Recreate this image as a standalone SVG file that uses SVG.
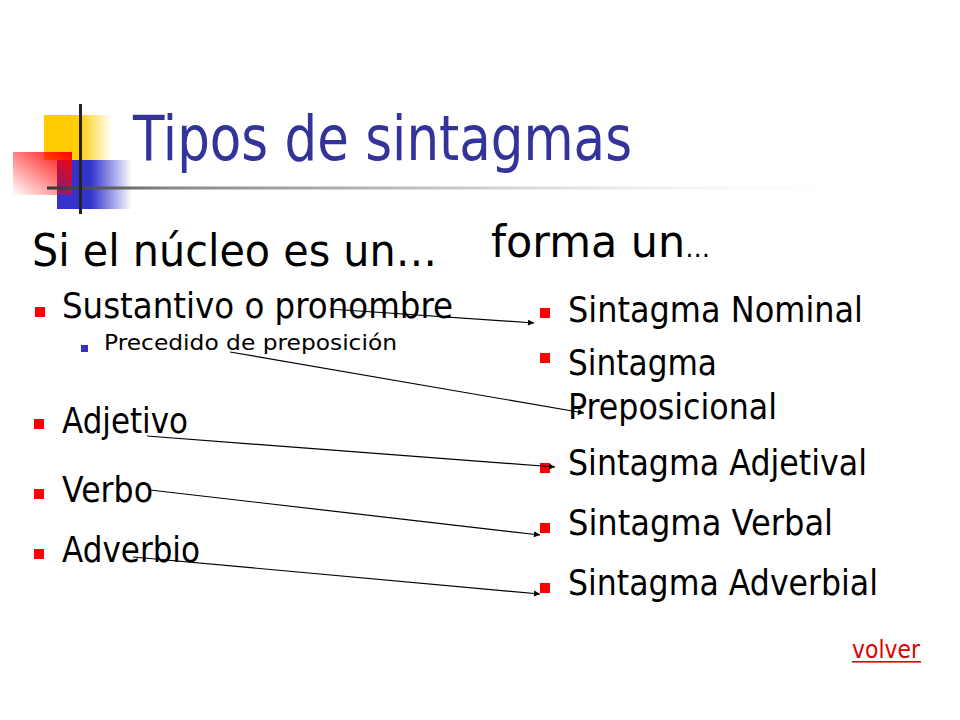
<svg xmlns="http://www.w3.org/2000/svg" width="960" height="720" viewBox="0 0 960 720">
<defs>
<linearGradient id="gy" x1="0" y1="0" x2="1" y2="0"><stop offset="0" stop-color="#FFCC00"/><stop offset="0.5" stop-color="#FFCC00"/><stop offset="1" stop-color="#FFCC00" stop-opacity="0"/></linearGradient>
<linearGradient id="gb" x1="0" y1="0" x2="1" y2="0"><stop offset="0" stop-color="#3333CC"/><stop offset="0.45" stop-color="#3333CC"/><stop offset="1" stop-color="#3333CC" stop-opacity="0"/></linearGradient>
<linearGradient id="gr" x1="0" y1="1" x2="1" y2="0"><stop offset="0" stop-color="#FF0000" stop-opacity="0"/><stop offset="1" stop-color="#FF0000"/></linearGradient>
<linearGradient id="gl" x1="47" y1="0" x2="880" y2="0" gradientUnits="userSpaceOnUse"><stop offset="0" stop-color="#333333"/><stop offset="0.15" stop-color="#888888"/><stop offset="0.6" stop-color="#dddddd"/><stop offset="1" stop-color="#ffffff" stop-opacity="0"/></linearGradient>
<marker id="ah" viewBox="0 0 10 10" refX="10" refY="5" markerWidth="9" markerHeight="6" markerUnits="userSpaceOnUse" orient="auto"><path d="M0,0 L10,5 L0,10 z" fill="#000"/></marker>
</defs>
<style>
text{font-family:"DejaVu Sans","Liberation Sans",sans-serif;fill:#000}
.t{fill:#333399}
.b{fill:#FF0000}
.c{stroke:#000;stroke-width:1.2;fill:none;marker-end:url(#ah)}
</style>
<rect width="960" height="720" fill="#fff"/>
<g id="logo">
<rect x="44" y="115" width="68" height="45" fill="url(#gy)"/>
<rect x="57" y="160" width="75" height="49" fill="url(#gb)"/>
<rect x="13" y="152" width="59" height="43" fill="url(#gr)"/>
<rect x="47" y="186.5" width="833" height="3" fill="url(#gl)"/>
<rect x="79" y="104" width="3" height="110" fill="#222"/>
</g>
<g id="title"><text class="t" x="133" y="160" font-size="63" textLength="499" lengthAdjust="spacingAndGlyphs">Tipos de sintagmas</text></g>
<g id="left-head"><text x="32" y="266" font-size="45" textLength="405" lengthAdjust="spacingAndGlyphs">Si el núcleo es un…</text></g>
<g id="right-head"><text x="491" y="257" font-size="45" textLength="219" lengthAdjust="spacingAndGlyphs">forma un<tspan font-size="26">…</tspan></text></g>
<g id="n-sustantivo"><rect class="b" x="35" y="307" width="10" height="10"/><text x="62" y="318" font-size="35" textLength="391" lengthAdjust="spacingAndGlyphs">Sustantivo o pronombre</text></g>
<g id="n-precedido"><rect x="81" y="345" width="7" height="7" fill="#3333CC"/><text x="104" y="350" font-size="22" textLength="293" lengthAdjust="spacingAndGlyphs">Precedido de preposición</text></g>
<g id="n-adjetivo"><rect class="b" x="34" y="419" width="10" height="10"/><text x="62" y="433" font-size="35" textLength="126" lengthAdjust="spacingAndGlyphs">Adjetivo</text></g>
<g id="n-verbo"><rect class="b" x="34" y="489" width="10" height="10"/><text x="62" y="502" font-size="35" textLength="91" lengthAdjust="spacingAndGlyphs">Verbo</text></g>
<g id="n-adverbio"><rect class="b" x="34" y="549" width="10" height="10"/><text x="62" y="562" font-size="35" textLength="138" lengthAdjust="spacingAndGlyphs">Adverbio</text></g>
<g id="n-sn"><rect class="b" x="540" y="308" width="10" height="10"/><text x="568" y="322" font-size="35" textLength="295" lengthAdjust="spacingAndGlyphs">Sintagma Nominal</text></g>
<g id="n-sp"><rect class="b" x="540" y="353" width="10" height="10"/><text x="568" y="375" font-size="35" textLength="149" lengthAdjust="spacingAndGlyphs">Sintagma</text><text x="568" y="419" font-size="35" textLength="209" lengthAdjust="spacingAndGlyphs">Preposicional</text></g>
<g id="n-sadj"><rect class="b" x="540" y="463" width="10" height="10"/><text x="568" y="475" font-size="35" textLength="299" lengthAdjust="spacingAndGlyphs">Sintagma Adjetival</text></g>
<g id="n-sv"><rect class="b" x="540" y="523" width="10" height="10"/><text x="568" y="535" font-size="35" textLength="265" lengthAdjust="spacingAndGlyphs">Sintagma Verbal</text></g>
<g id="n-sadv"><rect class="b" x="540" y="583" width="10" height="10"/><text x="568" y="595" font-size="35" textLength="310" lengthAdjust="spacingAndGlyphs">Sintagma Adverbial</text></g>
<g id="connectors">
<line class="c" x1="330" y1="309" x2="534" y2="323"/>
<line class="c" x1="230" y1="352" x2="584" y2="413"/>
<line class="c" x1="147" y1="436" x2="555" y2="467"/>
<line class="c" x1="150" y1="490" x2="540" y2="535"/>
<line class="c" x1="133" y1="557" x2="540" y2="594"/>
</g>
<g id="volver"><text x="852" y="658" font-size="24" style="fill:#E00000" textLength="68" lengthAdjust="spacingAndGlyphs">volver</text><rect x="852" y="661" width="69" height="1.6" fill="#E00000"/></g>
</svg>
